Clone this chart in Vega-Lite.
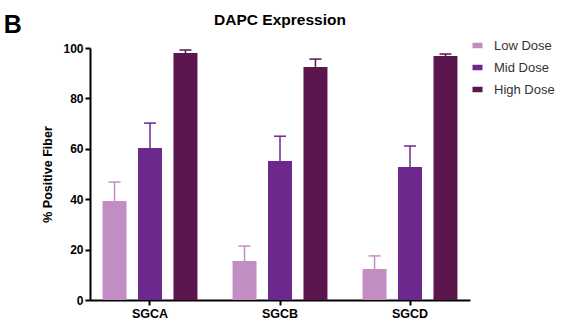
{
  "$schema": "https://vega.github.io/schema/vega-lite/v6.json",
  "padding": {"left": 3, "top": 12, "right": 5, "bottom": 5},
  "title": {"text": "B", "orient": "left", "anchor": "end", "angle": 0, "fontSize": 25, "font": "Liberation Sans", "fontWeight": "bold", "color": "black", "offset": 2, "baseline": "top"},
  "data": {"values": [
    {"gene": "SGCA", "dose": "Low Dose", "value": 39.3, "err": 46.8},
    {"gene": "SGCA", "dose": "Mid Dose", "value": 60.3, "err": 70.2},
    {"gene": "SGCA", "dose": "High Dose", "value": 98.0, "err": 99.2},
    {"gene": "SGCB", "dose": "Low Dose", "value": 15.5, "err": 21.4},
    {"gene": "SGCB", "dose": "Mid Dose", "value": 55.2, "err": 65.0},
    {"gene": "SGCB", "dose": "High Dose", "value": 92.5, "err": 95.6},
    {"gene": "SGCD", "dose": "Low Dose", "value": 12.3, "err": 17.5},
    {"gene": "SGCD", "dose": "Mid Dose", "value": 52.8, "err": 61.1},
    {"gene": "SGCD", "dose": "High Dose", "value": 96.8, "err": 97.6}
  ]},
  "vconcat": [{
    "width": 380,
    "height": 252,
    "title": {"text": "DAPC Expression", "fontSize": 15.5, "font": "Liberation Sans", "fontWeight": "bold", "color": "black", "offset": 14},
    "encoding": {
      "x": {"field": "gene", "type": "nominal", "sort": ["SGCA", "SGCB", "SGCD"],
        "scale": {"paddingInner": 0.27, "paddingOuter": 0.0965},
        "axis": {"title": null, "labelAngle": 0, "labelFont": "Liberation Sans", "labelFontWeight": "bold", "labelFontSize": 12.5, "labelColor": "black", "domainColor": "black", "domainWidth": 2, "tickColor": "black", "tickWidth": 2, "tickSize": 5, "labelPadding": 2}},
      "xOffset": {"field": "dose", "type": "nominal", "sort": ["Low Dose", "Mid Dose", "High Dose"],
        "scale": {"paddingInner": 0.324, "paddingOuter": 0}},
      "color": {"field": "dose", "type": "nominal", "sort": ["Low Dose", "Mid Dose", "High Dose"],
        "scale": {"domain": ["Low Dose", "Mid Dose", "High Dose"], "range": ["#c28dc3", "#6c288c", "#5b164d"]},
        "legend": {"title": null, "orient": "none", "legendX": 381, "legendY": -9, "labelFont": "Liberation Sans", "labelFontSize": 13, "labelColor": "#333333", "symbolType": "M-1,-0.55H1V0.55H-1Z", "symbolSize": 100, "symbolStrokeWidth": 0, "symbolOpacity": 1, "rowPadding": 8, "labelOffset": 10, "padding": 0}}
    },
    "layer": [
      {"mark": {"type": "bar"},
       "encoding": {"y": {"field": "value", "type": "quantitative", "scale": {"domain": [0, 100]},
         "axis": {"values": [0, 20, 40, 60, 80, 100], "grid": false, "title": "% Positive Fiber", "titleFont": "Liberation Sans", "titleFontWeight": "bold", "titleFontSize": 12.5, "titleColor": "black", "titlePadding": 8,
           "labelFont": "Liberation Sans", "labelFontWeight": "bold", "labelFontSize": 12, "labelColor": "black", "domainColor": "black", "domainWidth": 2, "tickColor": "black", "tickWidth": 2, "tickSize": 5, "labelPadding": 2}}}},
      {"mark": {"type": "rule", "strokeWidth": 1.5},
       "encoding": {"y": {"field": "value", "type": "quantitative"}, "y2": {"field": "err"}}},
      {"mark": {"type": "tick", "size": 12, "thickness": 1.5, "opacity": 1},
       "encoding": {"y": {"field": "err", "type": "quantitative"}}}
    ]
  }],
  "config": {"view": {"stroke": null}}
}
